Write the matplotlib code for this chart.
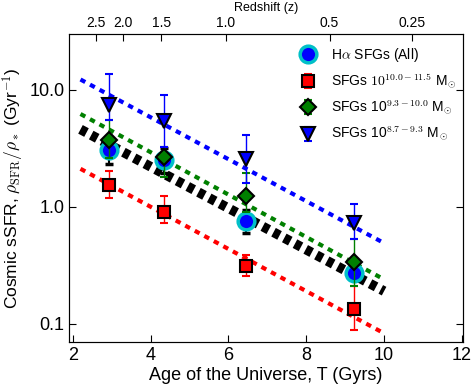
import numpy as np
import matplotlib
matplotlib.use("Agg")
import matplotlib.pyplot as plt
from matplotlib.ticker import FixedLocator, NullLocator

plt.rcParams['font.family'] = ['Liberation Sans', 'DejaVu Sans']
plt.rcParams['mathtext.fontset'] = 'cm'

# ---- data ----
age = [2.93, 4.35, 6.46, 9.22]

ha_all = [3.07, 2.50, 0.75, 0.27]
ha_lo = [2.33, 1.95, 0.60, 0.24]
ha_hi = [3.90, 3.20, 0.94, 0.30]

sfg_hi = [1.54, 0.905, 0.31, 0.134]         # 10^10.0-11.5
sfg_hi_lo = [1.19, 0.72, 0.257, 0.089]
sfg_hi_hi = [2.03, 1.24, 0.39, 0.21]

sfg_mid = [3.74, 2.68, 1.24, 0.34]          # 10^9.3-10.0
sfg_mid_lo = [2.60, 1.80, 0.90, 0.21]
sfg_mid_hi = [5.54, 3.26, 1.95, 0.53]

sfg_low = [7.44, 5.43, 2.57, 0.73]          # 10^8.7-9.3
sfg_low_lo = [5.54, 3.26, 1.60, 0.53]
sfg_low_hi = [13.7, 9.07, 4.13, 1.06]

# fits: log10(sSFR) = norm + slope * T
fit_T = [2.2, 10.0]
fit_norm = {'all': 1.05, 'hi': 0.72, 'mid': 1.19, 'low': 1.48}
fit_slope = {'all': -0.177, 'hi': -0.180, 'mid': -0.181, 'low': -0.179}

z_labels = ['2.5', '2.0', '1.5', '1.0', '0.5', '0.25']
z_ages = [2.60, 3.28, 4.28, 5.93, 8.60, 10.72]

# ---- figure ----
fig = plt.figure(figsize=(4.74, 3.87), dpi=100)
ax = fig.add_axes([0.146, 0.116, 0.831, 0.797])

T = np.array(fit_T)
def fitline(k):
    return 10 ** (fit_norm[k] + fit_slope[k] * T)

ax.plot(T, fitline('low'), color='blue', lw=3, ls=(0, (1.3, 1.3)), zorder=2)
ax.plot(T, fitline('mid'), color='green', lw=3, ls=(0, (1.3, 1.3)), zorder=2)
ax.plot(T, fitline('hi'), color='red', lw=3, ls=(0, (1.3, 1.3)), zorder=2)
ax.plot(T, fitline('all'), color='black', lw=7, ls=(0, (0.7, 0.55)), zorder=2)

def errs(v, lo, hi):
    v = np.array(v); return [v - np.array(lo), np.array(hi) - v]

ax.errorbar(age, ha_all, yerr=errs(ha_all, ha_lo, ha_hi), fmt='o', ms=12,
            mfc='blue', mec='#00c0c8', mew=2.5, ecolor='black', elinewidth=1.5,
            capsize=3, label=r'H$\alpha$ SFGs (All)', zorder=4)
ax.errorbar(age, sfg_hi, yerr=errs(sfg_hi, sfg_hi_lo, sfg_hi_hi), fmt='s', ms=9,
            mfc='red', mec='black', mew=1.5, ecolor='red', elinewidth=1,
            capsize=3, label=r'SFGs $10^{10.0-11.5}$ M$_{\odot}$', zorder=5)
ax.errorbar(age, sfg_mid, yerr=errs(sfg_mid, sfg_mid_lo, sfg_mid_hi), fmt='D', ms=8.5,
            mfc='green', mec='black', mew=1.5, ecolor='green', elinewidth=1,
            capsize=3, label=r'SFGs 10$^{9.3-10.0}$ M$_{\odot}$', zorder=5)
ax.errorbar(age, sfg_low, yerr=errs(sfg_low, sfg_low_lo, sfg_low_hi), fmt='v', ms=9.5,
            mfc='blue', mec='black', mew=1.5, ecolor='blue', elinewidth=1,
            capsize=3, label=r'SFGs 10$^{8.7-9.3}$ M$_{\odot}$', zorder=5)

ax.set_yscale('log')
ax.set_xlim(1.91, 12.03)
ax.set_ylim(0.07, 30)
ax.yaxis.set_major_locator(FixedLocator([0.1, 1.0, 10.0]))
ax.yaxis.set_minor_locator(NullLocator())
ax.set_yticklabels(['0.1', '1.0', '10.0'])
ax.set_xticks([2, 4, 6, 8, 10, 12])
ax.tick_params(axis='both', which='major', direction='in', length=5, labelsize=13,
               top=False, right=True)
ax.set_xlabel('Age of the Universe, T (Gyrs)', fontsize=13, labelpad=2)
ax.set_ylabel(r'Cosmic sSFR, $\rho_{\rm SFR}/\rho_*$ (Gyr$^{-1}$)', fontsize=12.5, labelpad=2)

for s in ax.spines.values():
    s.set_color('#444444')

ax2 = ax.twiny()
ax2.set_xlim(ax.get_xlim())
ax2.set_xticks(z_ages)
ax2.set_xticklabels(z_labels)
ax2.tick_params(axis='x', direction='in', length=5, labelsize=10, pad=3)
ax2.set_xlabel('Redshift (z)', fontsize=9, labelpad=3)

leg = ax.legend(loc='upper right', frameon=False, fontsize=10, numpoints=1,
                handletextpad=0.7, labelspacing=0.55, borderaxespad=0.5,
                bbox_to_anchor=(1.015, 1.0))

fig.savefig('out.png', dpi=100)
